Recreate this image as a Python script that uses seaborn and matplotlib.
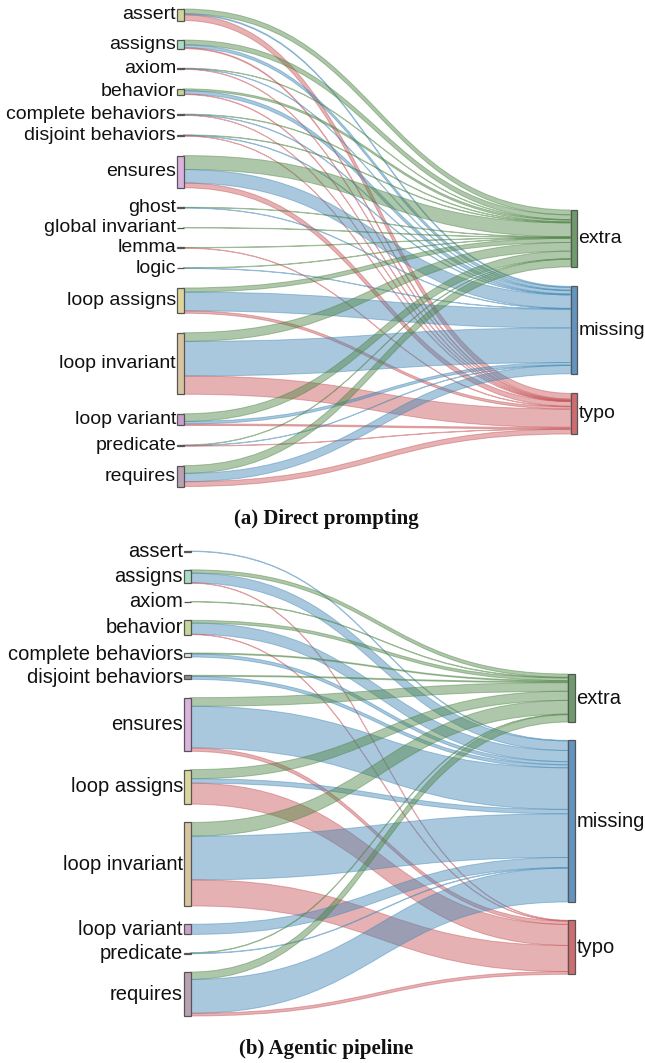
import numpy as np
import pandas as pd
import matplotlib
matplotlib.use("Agg")
import matplotlib.pyplot as plt
import seaborn as sns
from matplotlib.path import Path
from matplotlib.patches import PathPatch, Rectangle

# ---------------- data ----------------
targets = ["extra", "missing", "typo"]

sources_a = ["assert", "assigns", "axiom", "behavior", "complete behaviors",
             "disjoint behaviors", "ensures", "ghost", "global invariant", "lemma",
             "logic", "loop assigns", "loop invariant", "loop variant", "predicate",
             "requires"]
extra_a   = [5.0, 5.0, 0.4, 2.0, 0.5, 0.5, 14.5, 0.4, 0.4, 0.4, 0.4, 4.3, 9.0, 8.0, 0.4, 8.0]
missing_a = [1.0, 3.0, 0.4, 3.5, 0.5, 0.5, 14.0, 0.4, 0.0, 0.0, 0.4, 19.5, 36.0, 2.7, 0.4, 8.7]
typo_a    = [6.0, 1.0, 0.4, 0.5, 0.3, 0.3, 5.0, 0.0, 0.0, 0.4, 0.0, 2.5, 19.0, 1.5, 0.4, 5.0]

sources_b = ["assert", "assigns", "axiom", "behavior", "complete behaviors",
             "disjoint behaviors", "ensures", "loop assigns", "loop invariant",
             "loop variant", "predicate", "requires"]
extra_b   = [0.0, 3.3, 0.5, 2.7, 1.0, 1.0, 8.5, 9.0, 13.5, 0.0, 0.5, 7.3]
missing_b = [0.5, 9.5, 0.0, 11.0, 3.0, 3.0, 41.0, 4.3, 43.0, 10.0, 0.5, 33.3]
typo_b    = [0.0, 0.4, 0.0, 0.4, 0.0, 0.0, 3.3, 20.7, 25.7, 0.0, 0.0, 2.7]

captions = ["(a) Direct prompting", "(b) Agentic pipeline"]

# ---------------- style ----------------
node_colors = {
    "assert": "#cfd49b", "assigns": "#a9dcc4", "axiom": "#9a9a9a",
    "behavior": "#c4d79a", "complete behaviors": "#d6e8f2",
    "disjoint behaviors": "#8c8c98", "ensures": "#dcb2de", "ghost": "#9a9a9a",
    "global invariant": "#9a9a9a", "lemma": "#9a9a9a", "logic": "#9a9a9a",
    "loop assigns": "#dbd69c", "loop invariant": "#d9c4a0",
    "loop variant": "#c9a0cc", "predicate": "#9a9a9a", "requires": "#b9a2b4",
    "extra": "#6f9b6c", "missing": "#6393bf", "typo": "#cf6c70",
}
link_colors = {"extra": "#4d8343", "missing": "#4187b5", "typo": "#c75357"}

sns.set_theme(style="white")
plt.rcParams["font.family"] = ["Liberation Sans", "DejaVu Sans"]


def make_df(sources, ex, mi, ty):
    rows = []
    for s, a, b, c in zip(sources, ex, mi, ty):
        for t, v in zip(targets, (a, b, c)):
            if v > 0:
                rows.append((s, t, v))
    return pd.DataFrame(rows, columns=["source", "target", "value"])


def band(x0, x1, s0, s1, t0, t1):
    xm = (x0 + x1) / 2
    verts = [(x0, s0), (xm, s0), (xm, t0), (x1, t0),
             (x1, t1), (xm, t1), (xm, s1), (x0, s1), (x0, s0)]
    codes = [Path.MOVETO, Path.CURVE4, Path.CURVE4, Path.CURVE4,
             Path.LINETO, Path.CURVE4, Path.CURVE4, Path.CURVE4, Path.CLOSEPOLY]
    return Path(verts, codes)


def sankey(ax, df, src_order, lx, rx, top, bottom, pad, rtop, rpad, fs):
    tot_s = df.groupby("source")["value"].sum().reindex(src_order).fillna(0)
    tot_t = df.groupby("target")["value"].sum().reindex(targets).fillna(0)
    n = len(src_order)
    k = (bottom - top - pad * (n - 1)) / tot_s.sum()
    spos, y = {}, top
    for s in src_order:
        spos[s] = y
        y += tot_s[s] * k + pad
    tpos, y = {}, rtop
    for t in targets:
        tpos[t] = y
        y += tot_t[t] * k + rpad
    s_off = {s: spos[s] for s in src_order}
    t_off = {t: tpos[t] for t in targets}
    links = []
    for s in src_order:
        sub = df[df.source == s]
        for t in targets:
            r = sub[sub.target == t]
            if len(r):
                h = r.value.iloc[0] * k
                links.append([s, t, s_off[s], s_off[s] + h, h])
                s_off[s] += h
    for t in targets:
        for L in links:
            if L[1] == t:
                L.append(t_off[t])
                t_off[t] += L[4]
    for s, t, s0, s1, h, t0 in links:
        p = band(lx[1], rx[0], s0, s1, t0, t0 + h)
        ax.add_patch(PathPatch(p, facecolor=link_colors[t], alpha=0.45,
                               edgecolor=link_colors[t], lw=0.7, zorder=2))
    for s in src_order:
        h = max(tot_s[s] * k, 0.6)
        ax.add_patch(Rectangle((lx[0], spos[s]), lx[1] - lx[0], h,
                               facecolor=node_colors[s], edgecolor="#555555",
                               lw=0.9, zorder=3))
        ax.text(lx[0] - 1, spos[s] + tot_s[s] * k / 2, s, ha="right",
                va="center", fontsize=fs, color="#111111", zorder=4)
    for t in targets:
        h = tot_t[t] * k
        ax.add_patch(Rectangle((rx[0], tpos[t]), rx[1] - rx[0], h,
                               facecolor=node_colors[t], edgecolor="#555555",
                               lw=0.9, zorder=3))
        ax.text(rx[1] + 1.5, tpos[t] + h / 2, t, ha="left", va="center",
                fontsize=fs, color="#111111", zorder=4)


fig = plt.figure(figsize=(6.45, 10.63), dpi=100)
ax = fig.add_axes([0, 0, 1, 1])
ax.set_xlim(0, 645)
ax.set_ylim(1063, 0)
ax.axis("off")

df_a = make_df(sources_a, extra_a, missing_a, typo_a)
df_b = make_df(sources_b, extra_b, missing_b, typo_b)

sankey(ax, df_a, sources_a, (177, 183.5), (570.5, 577), 9, 486.5, 19.5, 210, 19.5, 14)
sankey(ax, df_b, sources_b, (184, 190.5), (568, 575), 551, 1016, 18.3, 674, 18.3, 14.5)

for txt, yy in zip(captions, (519, 1049)):
    ax.text(326, yy, txt, ha="center", va="center", fontsize=15,
            fontweight="bold", family=["Liberation Serif", "DejaVu Serif"],
            color="#111111")

fig.savefig("out.png", dpi=100)
